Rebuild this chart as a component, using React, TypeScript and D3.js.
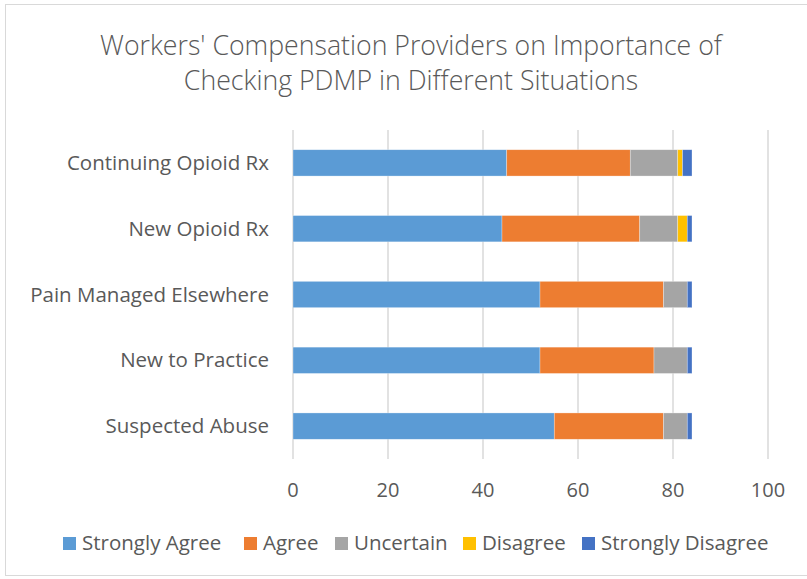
import React from "react";
import * as d3 from "d3";

const categories = ["Continuing Opioid Rx", "New Opioid Rx", "Pain Managed Elsewhere", "New to Practice", "Suspected Abuse"];
const seriesNames = ["Strongly Agree", "Agree", "Uncertain", "Disagree", "Strongly Disagree"];
const seriesColors = ["#5B9BD5", "#ED7D31", "#A5A5A5", "#FFC000", "#4472C4"];
const stronglyAgree = [45, 44, 52, 52, 55];
const agree = [26, 29, 26, 24, 23];
const uncertain = [10, 8, 5, 7, 5];
const disagree = [1, 2, 0, 0, 0];
const stronglyDisagree = [2, 1, 1, 1, 1];
const xTicks = [0, 20, 40, 60, 80, 100];
const titleLines = ["Workers' Compensation Providers on Importance of", "Checking PDMP in Different Situations"];

const W = 807, H = 579;
const FONT = "'Open Sans', sans-serif";
const TXT = "#595959";

export default function App() {
  const seriesValues = [stronglyAgree, agree, uncertain, disagree, stronglyDisagree];
  const rows = categories.map((c, i) => {
    const r: any = { cat: c };
    seriesNames.forEach((s, j) => (r[s] = seriesValues[j][i]));
    return r;
  });
  const stack = d3.stack<any>().keys(seriesNames)(rows);
  const x = d3.scaleLinear().domain([0, 100]).range([293, 768]);
  const y = d3.scaleBand().domain(categories).range([130, 459]).paddingInner(0.6).paddingOuter(0.3);

  const legendXs = [63, 244, 335, 463, 582];

  return (
    <svg width={W} height={H} style={{ position: "absolute", left: 0, top: 0 }}>
      <rect x={0} y={0} width={W} height={H} fill="#fff" />
      <rect x={5.5} y={4.5} width={W + 10} height={H - 8} fill="#fff" stroke="#d9d9d9" strokeWidth={1} />
      {titleLines.map((t, i) => (
        <text key={i} x={411} y={55 + i * 35} textAnchor="middle" fontFamily={FONT} fontSize={26.7} fill={TXT} fontWeight={300}>
          {t}
        </text>
      ))}
      {xTicks.map((t) => (
        <g key={t}>
          <line x1={x(t)} x2={x(t)} y1={130} y2={459} stroke="#d9d9d9" strokeWidth={1.5} />
          <text x={x(t)} y={497} textAnchor="middle" fontFamily={FONT} fontSize={20} fill={TXT}>{t}</text>
        </g>
      ))}
      {stack.map((s, j) => (
        <g key={j}>
          {s.map((d, i) => (
            <rect key={i} x={x(d[0])} y={y(categories[i])!} width={Math.max(0, x(d[1]) - x(d[0]))} height={y.bandwidth()} fill={seriesColors[j]} stroke="#fff" strokeWidth={0.6} strokeOpacity={0.5} />
          ))}
        </g>
      ))}
      {categories.map((c) => (
        <text key={c} x={269} y={y(c)! + y.bandwidth() / 2 + 7} textAnchor="end" fontFamily={FONT} fontSize={20.5} fill={TXT}>{c}</text>
      ))}
      {seriesNames.map((s, j) => (
        <g key={s}>
          <rect x={legendXs[j]} y={537} width={13} height={13} fill={seriesColors[j]} />
          <text x={legendXs[j] + 19} y={550} fontFamily={FONT} fontSize={20.5} fill={TXT}>{s}</text>
        </g>
      ))}
    </svg>
  );
}
